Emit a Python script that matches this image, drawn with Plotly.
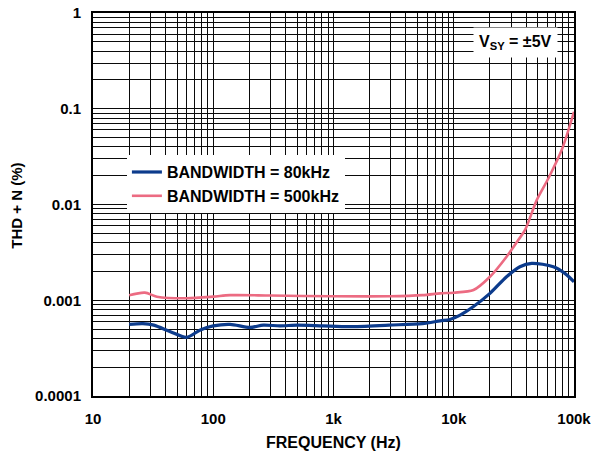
import plotly.graph_objects as go

# ---- data ----
bw80_freq = [20, 26, 32, 44, 60, 78, 100, 138, 202, 261, 359, 500, 816, 1370,
             2900, 5500, 7700, 9300, 11300, 14600, 20000, 27500, 35500, 44500,
             67300, 84000, 100000]
bw80_thd = [0.00056, 0.00057, 0.00055, 0.00047, 0.00041, 0.00049, 0.00054,
            0.00056, 0.00052, 0.00055, 0.00054, 0.00055, 0.00054, 0.00053,
            0.00055, 0.00057, 0.00061, 0.00063, 0.0007, 0.00086, 0.00118,
            0.00176, 0.00224, 0.00243, 0.00224, 0.00191, 0.00156]

bw500_freq = [20, 27, 34, 60, 100, 138, 300, 1000, 2900, 5500, 7700, 10000,
              14600, 20000, 27500, 34400, 39200, 49000, 61300, 79000, 100000]
bw500_thd = [0.00113, 0.0012, 0.00109, 0.00105, 0.00109, 0.00113, 0.00112,
             0.0011, 0.0011, 0.00113, 0.00118, 0.0012, 0.00128, 0.00176,
             0.00285, 0.00426, 0.00542, 0.0111, 0.0188, 0.037, 0.093]

x_tickvals = [10, 100, 1000, 10000, 100000]
x_ticktext = ["10", "100", "1k", "10k", "100k"]
y_tickvals = [0.0001, 0.001, 0.01, 0.1, 1]
y_ticktext = ["0.0001", "0.001", "0.01", "0.1", "1"]

series_names = ["BANDWIDTH = 80kHz", "BANDWIDTH = 500kHz"]
series_colors = ["#0c3b8c", "#ec6b82"]

x_minor = [m * 10 ** d for d in range(1, 5) for m in range(2, 10)]
y_minor = [m * 10.0 ** d for d in range(-4, 0) for m in range(2, 10)]

FONT = "Liberation Sans, Arial, Helvetica, sans-serif"


def bold(size):
    return dict(family=FONT, size=size, color="black", weight="bold")


fig = go.Figure()
fig.add_trace(go.Scatter(x=bw80_freq, y=bw80_thd, mode="lines", name=series_names[0],
                         line=dict(color=series_colors[0], width=3.2, shape="spline", smoothing=0.8)))
fig.add_trace(go.Scatter(x=bw500_freq, y=bw500_thd, mode="lines", name=series_names[1],
                         line=dict(color=series_colors[1], width=2.6, shape="spline", smoothing=0.8)))

axis_common = dict(
    showline=True, linecolor="black", linewidth=2, mirror=True,
    showgrid=True, gridcolor="#0a0a0a", gridwidth=1.4,
    ticks="", zeroline=False, automargin=False,
    ticklabeloverflow="allow",
    tickfont=bold(15),
)

fig.update_xaxes(type="log", range=[1, 5], tickvals=x_tickvals, ticktext=x_ticktext,
                 minor=dict(tickvals=x_minor, showgrid=True, gridcolor="#0a0a0a", gridwidth=1.2, ticks=""),
                 ticklabelstandoff=8, **axis_common)
fig.update_yaxes(type="log", range=[-4, 0], tickvals=y_tickvals, ticktext=y_ticktext,
                 minor=dict(tickvals=y_minor, showgrid=True, gridcolor="#0a0a0a", gridwidth=1.2, ticks=""),
                 ticklabelstandoff=7, **axis_common)

# axis titles
fig.add_annotation(xref="paper", yref="paper", x=0.5, y=-0.121, xanchor="center", yanchor="middle",
                   text="FREQUENCY (Hz)", showarrow=False, font=bold(16))
fig.add_annotation(xref="paper", yref="paper", x=-0.158, y=0.497, xanchor="center", yanchor="middle",
                   text="THD + N (%)", textangle=-90, showarrow=False, font=bold(15))

fig.add_annotation(xref="paper", yref="paper", x=0.879, y=0.924, xanchor="center", yanchor="middle",
                   text="V<sub>SY</sub> = ±5V", showarrow=False, font=bold(16),
                   bgcolor="white", borderpad=5)

fig.update_layout(
    template="none",
    width=592, height=451,
    margin=dict(l=93, r=18, t=13, b=55, autoexpand=False),
    paper_bgcolor="white", plot_bgcolor="white",
    font=bold(15),
    showlegend=True,
    hovermode=False,
    legend=dict(x=0.0705, y=0.629, xanchor="left", yanchor="top",
                bgcolor="white", borderwidth=0, font=bold(16),
                tracegroupgap=0, itemwidth=30),
)

# remove the default page margin so the 592x451 figure fills the window
fig.write_html("out.html",
               config={"displayModeBar": False},
               post_script="document.body.style.margin='0';document.body.style.overflow='hidden';")
